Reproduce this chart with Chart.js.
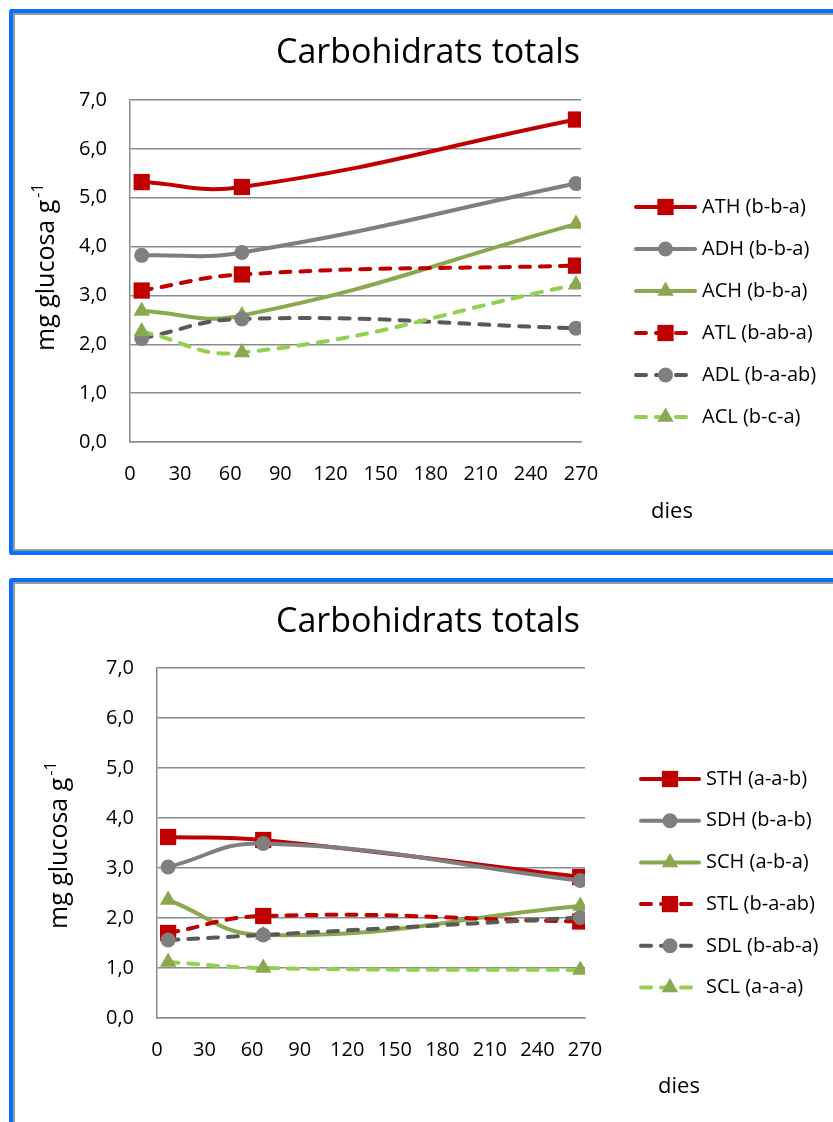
<!DOCTYPE html>
<html>
<head>
<meta charset="utf-8">
<title>Carbohidrats totals</title>
<script src="https://cdn.jsdelivr.net/npm/chart.js@4.4.0/dist/chart.umd.min.js"></script>
<style>
  body { margin: 0; background: #fff; width: 833px; height: 1122px; overflow: hidden; position: relative; }
  .wrap { position: absolute; left: 0; width: 833px; }
  #w1 { top: 0; height: 560px; }
  #w2 { top: 560px; height: 562px; }
  .frame {
    position: absolute; left: 9px; width: 840px;
    border: 4px solid #0a6eff; border-right: none; border-radius: 3px;
    box-shadow: inset 2px 2px 0 #9a9a9a, inset 0 -2px 0 #9a9a9a;
    pointer-events: none;
  }
  #f1 { top: 9px; height: 538px; }
  #f2 { top: 578px; height: 600px; border-bottom: none; }
</style>
</head>
<body>
<div class="wrap" id="w1"><canvas id="chart1" width="833" height="560"></canvas></div>
<div class="wrap" id="w2"><canvas id="chart2" width="833" height="562"></canvas></div>
<div class="frame" id="f1"></div>
<div class="frame" id="f2"></div>

<script>
// sampling days and axes
var days = [7, 67, 267];
var xMin = 0, xMax = 270, xStep = 30;
var yMin = 0, yMax = 7, yStep = 1;

var chartTitle = 'Carbohidrats totals';
var xTitle = 'dies';
var yTitle = 'mg glucosa g';
var yTitleSup = '-1';

// top chart
var namesA = ['ATH (b-b-a)', 'ADH (b-b-a)', 'ACH (b-b-a)', 'ATL (b-ab-a)', 'ADL (b-a-ab)', 'ACL (b-c-a)'];
var ATH = [5.32, 5.22, 6.60];
var ADH = [3.82, 3.88, 5.29];
var ACH = [2.68, 2.59, 4.46];
var ATL = [3.10, 3.43, 3.61];
var ADL = [2.12, 2.52, 2.33];
var ACL = [2.26, 1.83, 3.22];

// bottom chart
var namesS = ['STH (a-a-b)', 'SDH (b-a-b)', 'SCH (a-b-a)', 'STL (b-a-ab)', 'SDL (b-ab-a)', 'SCL (a-a-a)'];
var STH = [3.62, 3.56, 2.82];
var SDH = [3.02, 3.49, 2.75];
var SCH = [2.36, 1.66, 2.24];
var STL = [1.70, 2.04, 1.93];
var SDL = [1.56, 1.66, 2.01];
var SCL = [1.12, 1.00, 0.96];

// series look (same for both charts)
var lineColors = ['#c00000', '#7f7f7f', '#8aa84f', '#c00000', '#595959', '#92d050'];
var markColors = ['#c00000', '#7f7f7f', '#8aa84f', '#c00000', '#7f7f7f', '#8aa84f'];
var markStyles = ['rect', 'circle', 'triangle', 'rect', 'circle', 'triangle'];
var markRadius = [11.5, 7.5, 9.5, 11.5, 7.5, 9.5];
var isDashed = [false, false, false, true, true, true];

var FONT = '"Open Sans", "Noto Sans", sans-serif';
Chart.defaults.font.family = FONT;

function comma(v) {
    return v.toFixed(1).replace('.', ',');
}

function drawMark(ctx, style, r, x, y) {
    ctx.beginPath();
    if (style === 'rect') {
        var s = r * Math.SQRT1_2;
        ctx.rect(x - s, y - s, 2 * s, 2 * s);
    } else if (style === 'circle') {
        ctx.arc(x, y, r, 0, Math.PI * 2);
    } else {
        ctx.moveTo(x, y - r);
        ctx.lineTo(x + r * Math.sin(Math.PI / 3), y + r / 2);
        ctx.lineTo(x - r * Math.sin(Math.PI / 3), y + r / 2);
        ctx.closePath();
    }
    ctx.fill();
}

// title, axis titles and the line+marker legend, drawn like in the excel original
var decor = {
    id: 'decor',
    afterDraw: function (chart, args, o) {
        var ctx = chart.ctx;
        ctx.save();
        ctx.fillStyle = '#000';
        ctx.textBaseline = 'alphabetic';

        ctx.font = '34px ' + FONT;
        ctx.textAlign = 'center';
        ctx.fillText(chartTitle, o.titleX, o.titleY);

        ctx.font = '22px ' + FONT;
        ctx.fillText(xTitle, o.xTitleX, o.xTitleY);

        ctx.save();
        ctx.translate(o.yTitleX, o.yTitleY);
        ctx.rotate(-Math.PI / 2);
        ctx.textAlign = 'left';
        ctx.font = '25px ' + FONT;
        ctx.fillText(yTitle, 0, 0);
        var w = ctx.measureText(yTitle).width;
        ctx.font = '16px ' + FONT;
        ctx.fillText(yTitleSup, w + 2, -11);
        ctx.restore();

        chart.data.datasets.forEach(function (ds, i) {
            var y = o.legendY + i * o.legendGap;
            var x0 = o.legendX, x1 = o.legendX + o.legendW;
            ctx.strokeStyle = ds.borderColor;
            ctx.lineWidth = ds.borderWidth;
            ctx.lineCap = 'round';
            ctx.setLineDash(ds.borderDash || []);
            ctx.beginPath();
            ctx.moveTo(x0 + 2, y);
            ctx.lineTo(x1 - 2, y);
            ctx.stroke();
            ctx.setLineDash([]);
            ctx.fillStyle = ds.pointBackgroundColor;
            drawMark(ctx, ds.pointStyle, ds.pointRadius, (x0 + x1) / 2, y);
            ctx.fillStyle = '#000';
            ctx.font = '20px ' + FONT;
            ctx.textAlign = 'left';
            ctx.textBaseline = 'middle';
            ctx.fillText(ds.label, x1 + 5, y);
            ctx.textBaseline = 'alphabetic';
        });
        ctx.restore();
    }
};

function makeChart(id, names, series, lay) {
    var datasets = series.map(function (vals, i) {
        return {
            label: names[i],
            data: days.map(function (d, k) { return {x: d, y: vals[k]}; }),
            borderColor: lineColors[i],
            borderWidth: 4,
            borderDash: isDashed[i] ? [10, 10] : [],
            borderCapStyle: isDashed[i] ? 'round' : 'butt',
            pointStyle: markStyles[i],
            pointRadius: markRadius[i],
            pointBackgroundColor: markColors[i],
            pointBorderWidth: 0,
            tension: 0.45,
            fill: false,
            order: series.length - i
        };
    });

    return new Chart(document.getElementById(id).getContext('2d'), {
        type: 'line',
        data: {datasets: datasets},
        options: {
            responsive: false,
            animation: false,
            layout: {padding: {left: 0, top: lay.top, right: lay.right, bottom: 0}},
            plugins: {
                legend: {display: false},
                tooltip: {enabled: false},
                decor: lay.decor
            },
            scales: {
                x: {
                    type: 'linear', min: xMin, max: xMax,
                    grid: {display: false, drawTicks: false},
                    border: {display: true, color: '#8c8c8c', width: 1.5},
                    ticks: {stepSize: xStep, padding: 20, color: '#000', font: {size: 20}},
                    afterFit: function (s) { s.height = lay.xHeight; }
                },
                y: {
                    min: yMin, max: yMax,
                    grid: {color: '#8c8c8c', lineWidth: 1.5, drawTicks: false},
                    border: {display: true, color: '#8c8c8c', width: 1.5},
                    ticks: {stepSize: yStep, padding: 23, color: '#000', font: {size: 20}, callback: comma},
                    afterFit: function (s) { s.width = lay.yWidth; }
                }
            }
        },
        plugins: [decor]
    });
}

makeChart('chart1', namesA, [ATH, ADH, ACH, ATL, ADL, ACL], {
    top: 100, right: 252, xHeight: 118, yWidth: 130,
    decor: {
        titleX: 428, titleY: 63,
        xTitleX: 672, xTitleY: 518,
        yTitleX: 54, yTitleY: 351,
        legendX: 634, legendW: 63, legendY: 207, legendGap: 42
    }
});

makeChart('chart2', namesS, [STH, SDH, SCH, STL, SDL, SCL], {
    top: 108, right: 248, xHeight: 104, yWidth: 157,
    decor: {
        titleX: 428, titleY: 72,
        xTitleX: 679, xTitleY: 533,
        yTitleX: 67, yTitleY: 369,
        legendX: 639, legendW: 62, legendY: 219, legendGap: 41.7
    }
});
</script>
</body>
</html>
